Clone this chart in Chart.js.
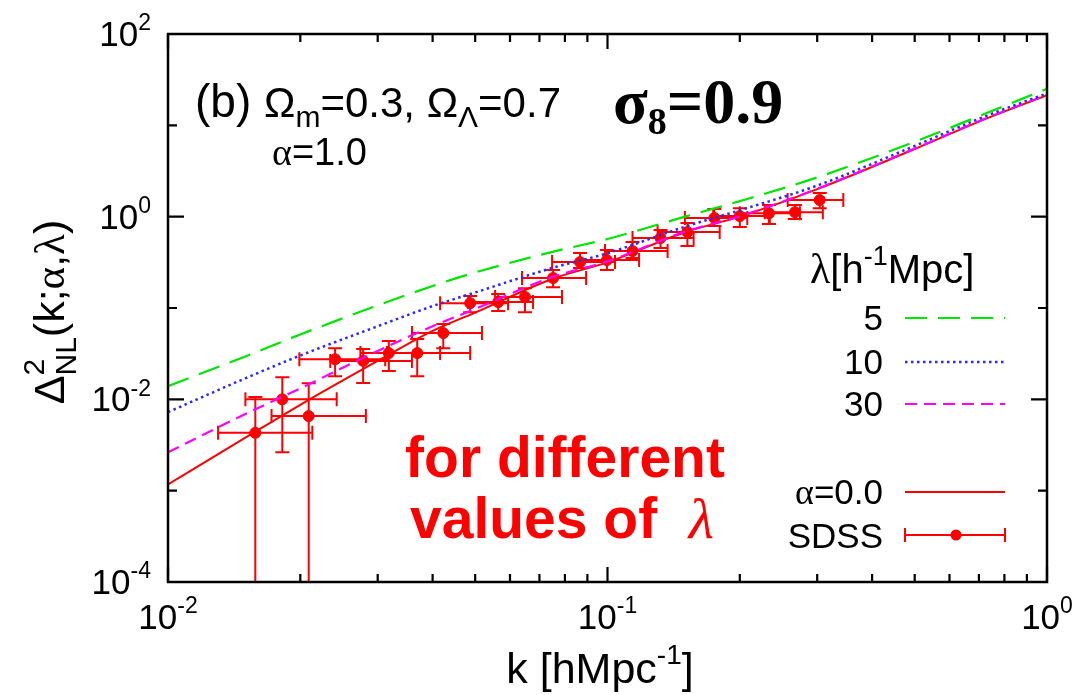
<!DOCTYPE html>
<html><head><meta charset="utf-8">
<script src="https://cdn.jsdelivr.net/npm/chart.js@4.4.1/dist/chart.umd.min.js"></script>
<style>html,body{margin:0;padding:0;background:#fff;}#wrap{width:1077px;height:695px;}</style>
</head><body><div id="wrap"><canvas id="c" width="1077" height="695"></canvas></div>
<script>
// ---- data ----
const curveK   = [0.01,0.015,0.02,0.03,0.04,0.05,0.075,0.1,0.15,0.2,0.3,0.5,0.7,1.0];
const lambda5  = [0.01396,0.0295,0.0513,0.107,0.174,0.245,0.412,0.569,1.0,1.479,2.69,6.61,12.6,25.1];
const lambda10 = [0.00724,0.0170,0.0302,0.0631,0.105,0.148,0.275,0.398,0.776,1.175,2.19,5.95,11.8,22.4];
const lambda30 = [0.00263,0.00692,0.0132,0.0339,0.0631,0.0977,0.219,0.324,0.684,1.012,2.02,5.56,11.1,21.6];
const alpha0   = [0.00117,0.00380,0.00871,0.0263,0.0562,0.0891,0.209,0.316,0.676,1.0,2.0,5.5,11.0,21.4];

const sdssK   = [0.0158,0.0182,0.0209,0.0240,0.0278,0.0318,0.0369,0.0423,0.0487,0.0564,0.0649,0.0752,0.0866,0.0997,0.114,0.132,0.152,0.175,0.200,0.233,0.267,0.304];
const sdssY   = [0.0043,0.0100,0.00655,0.0275,0.0263,0.0321,0.0321,0.0531,0.113,0.116,0.132,0.213,0.318,0.335,0.42,0.583,0.678,0.966,1.015,1.09,1.12,1.52];
const sdssKLo = [0.0130,0.0150,0.0172,0.0199,0.0234,0.0274,0.0315,0.0359,0.0416,0.0482,0.0555,0.0639,0.0748,0.0866,0.0987,0.114,0.130,0.150,0.174,0.200,0.228,0.257];
const sdssKHi = [0.0213,0.0242,0.0282,0.0312,0.0359,0.0416,0.0487,0.0518,0.0594,0.0677,0.0788,0.0894,0.104,0.118,0.137,0.157,0.180,0.208,0.234,0.274,0.309,0.344];
const sdssYLo = [0.00001,0.00264,0.00001,0.0179,0.0151,0.0204,0.0179,0.0363,0.090,0.0925,0.090,0.169,0.274,0.260,0.352,0.453,0.477,0.789,0.769,0.83,0.94,1.24];
const sdssYHi = [0.0106,0.0175,0.0150,0.0363,0.0355,0.0434,0.0457,0.0667,0.135,0.142,0.165,0.260,0.399,0.431,0.527,0.713,0.851,1.21,1.24,1.34,1.34,1.82];

const xTickVals = [0.01, 0.1, 1];
const xTickExps = ['-2', '-1', '0'];
const yTickVals = [0.0001, 0.01, 1, 100];
const yTickExps = ['-4', '-2', '0', '2'];

const SANS = "'Liberation Sans', Arial, sans-serif";
const SERIF = "'Liberation Serif', 'Times New Roman', serif";

function drawRich(ctx, x, y, parts, align) {
  let cx = 0, prevStart = 0; const items = [];
  for (const p of parts) {
    ctx.font = p.f; const w = ctx.measureText(p.t).width;
    const sx = p.stack ? prevStart : cx;
    items.push({p, sx});
    if (p.stack) cx = Math.max(cx, sx + w); else { prevStart = sx; cx = sx + w; }
  }
  const ox = align === 'right' ? x - cx : align === 'center' ? x - cx / 2 : x;
  for (const it of items) {
    ctx.font = it.p.f; ctx.fillStyle = it.p.c || '#000';
    ctx.fillText(it.p.t, ox + it.sx, y + (it.p.dy || 0));
  }
  return cx;
}
function powLabel(exp, size) {
  return [{t: '10', f: size + 'px ' + SANS}, {t: exp, f: Math.round(size * 0.66) + 'px ' + SANS, dy: -size * 0.45}];
}

const deco = {
  id: 'deco',
  beforeDatasetsDraw(chart) {
    const ctx = chart.ctx, xs = chart.scales.x, ys = chart.scales.y, a = chart.chartArea;
    ctx.save();
    ctx.beginPath(); ctx.rect(a.left, a.top, a.right - a.left, a.bottom - a.top); ctx.clip();
    ctx.strokeStyle = '#ff0000'; ctx.lineWidth = 2; ctx.setLineDash([]);
    const c = 7;
    for (let i = 0; i < sdssK.length; i++) {
      const px = xs.getPixelForValue(sdssK[i]), py = ys.getPixelForValue(sdssY[i]);
      const x1 = xs.getPixelForValue(sdssKLo[i]), x2 = xs.getPixelForValue(sdssKHi[i]);
      const y1 = ys.getPixelForValue(sdssYLo[i]), y2 = ys.getPixelForValue(sdssYHi[i]);
      ctx.beginPath();
      ctx.moveTo(x1, py); ctx.lineTo(x2, py);
      ctx.moveTo(x1, py - c); ctx.lineTo(x1, py + c);
      ctx.moveTo(x2, py - c); ctx.lineTo(x2, py + c);
      ctx.moveTo(px, y1); ctx.lineTo(px, y2);
      ctx.moveTo(px - c, y1); ctx.lineTo(px + c, y1);
      ctx.moveTo(px - c, y2); ctx.lineTo(px + c, y2);
      ctx.stroke();
    }
    ctx.restore();
  },
  afterDraw(chart) {
    const ctx = chart.ctx, xs = chart.scales.x, ys = chart.scales.y, a = chart.chartArea;
    ctx.save();
    ctx.strokeStyle = '#000'; ctx.lineWidth = 2.5; ctx.setLineDash([]);
    ctx.strokeRect(a.left, a.top, a.right - a.left, a.bottom - a.top);
    ctx.lineWidth = 2.2;
    ctx.beginPath();
    for (let d = -2; d < 0; d++) {
      for (let m = 1; m <= 10; m++) {
        const v = m * Math.pow(10, d);
        const px = xs.getPixelForValue(v);
        const L = (m === 1 || m === 10) ? 15 : 8;
        ctx.moveTo(px, a.bottom); ctx.lineTo(px, a.bottom - L);
        ctx.moveTo(px, a.top); ctx.lineTo(px, a.top + L);
      }
    }
    for (let d = -4; d <= 2; d++) {
      const py = ys.getPixelForValue(Math.pow(10, d));
      const L = (d % 2 === 0) ? 16 : 9;
      ctx.moveTo(a.left, py); ctx.lineTo(a.left + L, py);
      ctx.moveTo(a.right, py); ctx.lineTo(a.right - L, py);
    }
    ctx.stroke();
    ctx.textBaseline = 'alphabetic';
    xTickVals.forEach((v, i) => drawRich(ctx, xs.getPixelForValue(v), a.bottom + 47, powLabel(xTickExps[i], 35), 'center'));
    yTickVals.forEach((v, i) => drawRich(ctx, 151, ys.getPixelForValue(v) + 12, powLabel(yTickExps[i], 35), 'right'));
    // axis titles
    drawRich(ctx, 600, 683, [
      {t: 'k [hMpc', f: '43px ' + SANS}, {t: '-1', f: '28px ' + SANS, dy: -19}, {t: ']', f: '43px ' + SANS}], 'center');
    ctx.save();
    ctx.translate(64, 312); ctx.rotate(-Math.PI / 2);
    drawRich(ctx, 0, 0, [
      {t: 'Δ', f: '43px ' + SANS}, {t: '2', f: '30px ' + SANS, dy: -20},
      {t: 'NL', f: '30px ' + SANS, dy: 12, stack: true},
      {t: '(k;', f: '43px ' + SANS}, {t: 'α', f: '43px ' + SERIF}, {t: ',', f: '43px ' + SANS},
      {t: 'λ', f: '43px ' + SERIF}, {t: ')', f: '43px ' + SANS}], 'center');
    ctx.restore();
    // annotations
    drawRich(ctx, 195, 117, [
      {t: '(b) ', f: '46px ' + SANS}, {t: 'Ω', f: '42px ' + SANS}, {t: 'm', f: '30px ' + SANS, dy: 10},
      {t: '=0.3, ', f: '42px ' + SANS}, {t: 'Ω', f: '42px ' + SANS}, {t: 'Λ', f: '30px ' + SANS, dy: 10},
      {t: '=0.7', f: '42px ' + SANS}], 'left');
    drawRich(ctx, 272, 165, [{t: 'α', f: '38px ' + SERIF}, {t: '=1.0', f: '38px ' + SANS}], 'left');
    drawRich(ctx, 613, 123, [
      {t: 'σ', f: 'bold 64px ' + SERIF}, {t: '8', f: 'bold 38px ' + SERIF, dy: 11},
      {t: '=0.9', f: 'bold 64px ' + SERIF}], 'left');
    drawRich(ctx, 565, 477, [{t: 'for different', f: 'bold 57px ' + SANS, c: '#ff0000'}], 'center');
    drawRich(ctx, 562, 538, [{t: 'values of  ', f: 'bold 57px ' + SANS, c: '#ff0000'},
      {t: 'λ', f: 'italic 58px ' + SERIF, c: '#ff0000'}], 'center');
    // legend
    const ds = chart.data.datasets;
    drawRich(ctx, 810, 283, [{t: 'λ', f: '42px ' + SERIF}, {t: '[h', f: '40px ' + SANS},
      {t: '-1', f: '27px ' + SANS, dy: -18}, {t: 'Mpc]', f: '40px ' + SANS}], 'left');
    const rows = [{i: 0, y: 318}, {i: 1, y: 362}, {i: 2, y: 404}, {i: 3, y: 492}];
    rows.forEach(r => {
      const d = ds[r.i];
      const parts = d.label.startsWith('α')
        ? [{t: 'α', f: '36px ' + SERIF}, {t: d.label.slice(1), f: '35px ' + SANS}]
        : [{t: d.label, f: '35px ' + SANS}];
      drawRich(ctx, 883, r.y + 12, parts, 'right');
      ctx.strokeStyle = d.borderColor; ctx.lineWidth = d.borderWidth;
      ctx.setLineDash(d.borderDash || []);
      ctx.beginPath(); ctx.moveTo(905, r.y); ctx.lineTo(1005, r.y); ctx.stroke();
    });
    ctx.setLineDash([]);
    drawRich(ctx, 883, 548, [{t: ds[4].label, f: '35px ' + SANS}], 'right');
    ctx.strokeStyle = '#ff0000'; ctx.lineWidth = 2;
    ctx.beginPath();
    ctx.moveTo(905, 535); ctx.lineTo(1005, 535);
    ctx.moveTo(905, 528); ctx.lineTo(905, 542);
    ctx.moveTo(1005, 528); ctx.lineTo(1005, 542);
    ctx.stroke();
    ctx.fillStyle = '#ff0000'; ctx.beginPath(); ctx.arc(956, 535, 5.5, 0, Math.PI * 2); ctx.fill();
    ctx.restore();
  }
};

const mk = arr => curveK.map((k, i) => ({x: k, y: arr[i]}));
new Chart(document.getElementById('c').getContext('2d'), {
  type: 'scatter',
  data: {datasets: [
    {label: '5', data: mk(lambda5), showLine: true, borderColor: '#00e600', borderWidth: 2.2, borderDash: [22, 11], pointRadius: 0, cubicInterpolationMode: 'monotone'},
    {label: '10', data: mk(lambda10), showLine: true, borderColor: '#2a2aff', borderWidth: 2.5, borderDash: [2.5, 3.5], pointRadius: 0, cubicInterpolationMode: 'monotone'},
    {label: '30', data: mk(lambda30), showLine: true, borderColor: '#ff00ff', borderWidth: 2.2, borderDash: [12, 7], pointRadius: 0, cubicInterpolationMode: 'monotone'},
    {label: 'α=0.0', data: mk(alpha0), showLine: true, borderColor: '#ff0000', borderWidth: 2, pointRadius: 0, cubicInterpolationMode: 'monotone'},
    {label: 'SDSS', data: sdssK.map((k, i) => ({x: k, y: sdssY[i]})), showLine: false, pointRadius: 5.5, pointBackgroundColor: '#ff0000', pointBorderColor: '#ff0000', borderColor: '#ff0000', backgroundColor: '#ff0000'}
  ]},
  options: {
    responsive: false, animation: false, devicePixelRatio: 1,
    layout: {padding: {left: 168, right: 30, top: 34, bottom: 113}},
    plugins: {legend: {display: false}, tooltip: {enabled: false}},
    scales: {
      x: {type: 'logarithmic', min: 0.01, max: 1, display: false},
      y: {type: 'logarithmic', min: 0.0001, max: 100, display: false}
    }
  },
  plugins: [deco]
});
</script></body></html>
